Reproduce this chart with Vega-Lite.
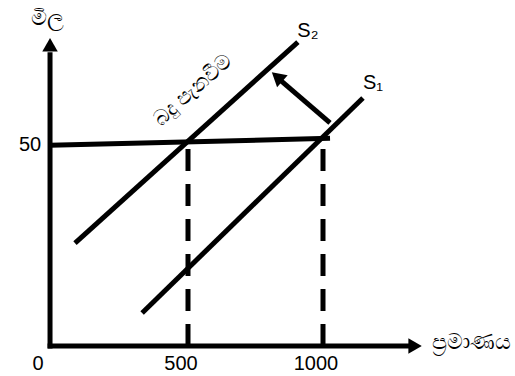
{
  "$schema": "https://vega.github.io/schema/vega-lite/v6.json",
  "width": 515,
  "height": 376,
  "autosize": "none",
  "padding": 0,
  "background": "white",
  "config": {"view": {"stroke": null}},
  "datasets": {
    "segments": [
      {"name": "xaxis", "x": -20, "y": 0, "x2": 1320, "y2": 0},
      {"name": "yaxis", "x": -11, "y": -0.6, "x2": -11, "y2": 72},
      {"name": "S1", "x": 330, "y": 8.1, "x2": 1148, "y2": 60.8},
      {"name": "S2", "x": 81.5, "y": 25.2, "x2": 907, "y2": 74.5},
      {"name": "price", "x": -11, "y": 49.2, "x2": 1026, "y2": 50.9},
      {"name": "shift", "x": 1026, "y": 54.7, "x2": 845, "y2": 65}
    ],
    "dashed": [
      {"name": "q500", "x": 500, "y": 0, "x2": 500, "y2": 50},
      {"name": "q1000", "x": 1000, "y": 0, "x2": 1000, "y2": 50.9}
    ],
    "heads": [
      {"name": "xhead", "x": 1341, "y": 0},
      {"name": "yhead", "x": -11, "y": 73.85},
      {"name": "shifthead", "x": 830, "y": 66}
    ],
    "labels": [
      {"name": "tick", "text": "0", "x": -55, "y": -4.4},
      {"name": "tick", "text": "500", "x": 474, "y": -4.4},
      {"name": "tick", "text": "1000", "x": 974, "y": -4.4},
      {"name": "tick", "text": "50", "x": -85, "y": 49.3},
      {"name": "curve", "text": "S₂", "x": 944, "y": 77.2},
      {"name": "curve", "text": "S₁", "x": 1185, "y": 64.5},
      {"name": "ytitle", "text": "මිල", "x": -22, "y": 80.3},
      {"name": "xtitle", "text": "ප්‍රමාණය", "x": 1402, "y": 1},
      {"name": "tax", "text": "බදු පැනවීම", "x": 518, "y": 62.6}
    ]
  },
  "encoding": {
    "x": {"type": "quantitative", "scale": {"domain": [-196.3, 1711.1], "nice": false, "zero": false}, "axis": null},
    "y": {"type": "quantitative", "scale": {"domain": [-7.35, 84.8], "nice": false, "zero": false}, "axis": null}
  },
  "layer": [
    {
      "data": {"name": "segments"},
      "mark": {"type": "rule", "color": "black", "strokeWidth": 5},
      "encoding": {
        "x": {"field": "x", "type": "quantitative"},
        "y": {"field": "y", "type": "quantitative"},
        "x2": {"field": "x2"},
        "y2": {"field": "y2"}
      }
    },
    {
      "data": {"name": "dashed"},
      "mark": {"type": "rule", "color": "black", "strokeWidth": 5, "strokeDash": [22, 13]},
      "encoding": {
        "x": {"field": "x", "type": "quantitative"},
        "y": {"field": "y", "type": "quantitative"},
        "x2": {"field": "x2"},
        "y2": {"field": "y2"}
      }
    },
    {
      "data": {"name": "heads"},
      "transform": [{"filter": "datum.name == 'xhead'"}],
      "mark": {"type": "point", "shape": "triangle-right", "filled": true, "color": "black", "size": 240, "opacity": 1},
      "encoding": {
        "x": {"field": "x", "type": "quantitative"},
        "y": {"field": "y", "type": "quantitative"}
      }
    },
    {
      "data": {"name": "heads"},
      "transform": [{"filter": "datum.name == 'yhead'"}],
      "mark": {"type": "point", "shape": "triangle-up", "filled": true, "color": "black", "size": 240, "opacity": 1},
      "encoding": {
        "x": {"field": "x", "type": "quantitative"},
        "y": {"field": "y", "type": "quantitative"}
      }
    },
    {
      "data": {"name": "heads"},
      "transform": [{"filter": "datum.name == 'shifthead'"}],
      "mark": {"type": "point", "shape": "triangle-up", "angle": 311, "filled": true, "color": "black", "size": 260, "opacity": 1},
      "encoding": {
        "x": {"field": "x", "type": "quantitative"},
        "y": {"field": "y", "type": "quantitative"}
      }
    },
    {
      "data": {"name": "labels"},
      "transform": [{"filter": "datum.name == 'tick' || datum.name == 'curve'"}],
      "mark": {"type": "text", "font": "Liberation Sans", "fontSize": 20, "color": "black", "align": "center", "baseline": "middle"},
      "encoding": {
        "x": {"field": "x", "type": "quantitative"},
        "y": {"field": "y", "type": "quantitative"},
        "text": {"field": "text"}
      }
    },
    {
      "data": {"name": "labels"},
      "transform": [{"filter": "datum.name == 'ytitle'"}],
      "mark": {"type": "text", "fontSize": 22, "color": "black", "align": "center", "baseline": "middle"},
      "encoding": {
        "x": {"field": "x", "type": "quantitative"},
        "y": {"field": "y", "type": "quantitative"},
        "text": {"field": "text"}
      }
    },
    {
      "data": {"name": "labels"},
      "transform": [{"filter": "datum.name == 'xtitle'"}],
      "mark": {"type": "text", "fontSize": 22, "color": "black", "align": "left", "baseline": "middle"},
      "encoding": {
        "x": {"field": "x", "type": "quantitative"},
        "y": {"field": "y", "type": "quantitative"},
        "text": {"field": "text"}
      }
    },
    {
      "data": {"name": "labels"},
      "transform": [{"filter": "datum.name == 'tax'"}],
      "mark": {"type": "text", "fontSize": 21, "color": "black", "align": "center", "baseline": "middle", "angle": 318},
      "encoding": {
        "x": {"field": "x", "type": "quantitative"},
        "y": {"field": "y", "type": "quantitative"},
        "text": {"field": "text"}
      }
    }
  ]
}
